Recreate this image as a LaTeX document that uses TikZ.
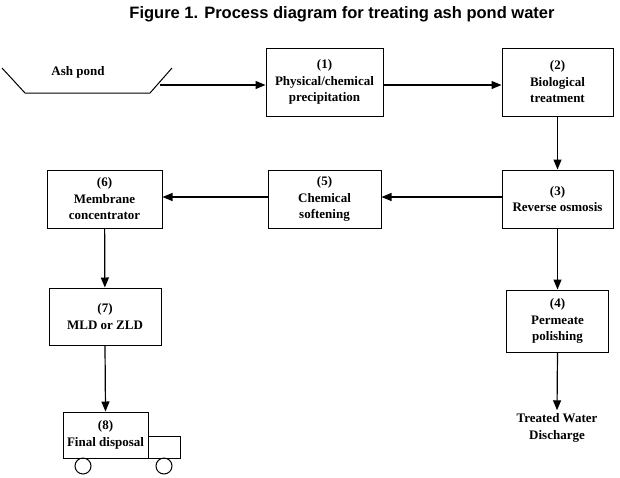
\documentclass[tikz,border=0pt]{standalone}
\usepackage{fontspec}
\setmainfont{Liberation Serif}
\newfontfamily\ttl{Liberation Sans}
\usetikzlibrary{arrows.meta}
\begin{document}
\begin{tikzpicture}[x=1pt,y=-1pt,
 box/.style={draw,line width=1pt,align=center,font=\bfseries\fontsize{13}{16.5}\selectfont,inner sep=0pt},
 arr/.style={-{Triangle[length=10pt,width=8pt]},line width=1.2pt},
 lbl/.style={align=center,font=\bfseries\fontsize{13}{16.5}\selectfont}]
\useasboundingbox (0,0) rectangle (620,477);
\node[font=\ttl\bfseries\fontsize{16.5}{19}\selectfont] (title) at (342,14) {Figure 1. Process diagram for treating ash pond water};
\draw[line width=1pt] (2,68) -- (25,93) -- (150,93) -- (172,68);
\node[lbl] (ash) at (78,72) {Ash pond};
\coordinate (ashout) at (160,85);
\node[box,minimum width=117pt,minimum height=68pt] (b1) at (324.5,82) {(1)\\Physical/chemical\\precipitation};
\node[box,minimum width=111pt,minimum height=68pt] (b2) at (557.5,82) {(2)\\Biological\\treatment};
\node[box,minimum width=111pt,minimum height=58pt] (b3) at (557.5,199) {(3)\\Reverse osmosis};
\node[box,minimum width=113pt,minimum height=58pt] (b5) at (324.5,199) {(5)\\Chemical\\softening};
\node[box,minimum width=115pt,minimum height=58pt] (b6) at (104.5,199) {(6)\\Membrane\\concentrator};
\node[box,minimum width=102pt,minimum height=62pt] (b4) at (557.5,321) {(4)\\Permeate\\polishing};
\node[box,minimum width=112pt,minimum height=57pt] (b7) at (105,316.5) {(7)\\MLD or ZLD};
\node[box,minimum width=85pt,minimum height=46pt] (b8) at (105.5,435) {(8)\\Final disposal};
\draw[line width=1pt] (b8.east |- 0,436) rectangle (180,458);
\draw[line width=1pt] (83,466) circle (8) (164,466) circle (8);
\node[lbl] (tw) at (557,428) {Treated Water\\Discharge};
\draw[arr] (ashout) -- (b1.west |- ashout);
\draw[arr] (b1.east |- 0,85) -- (b2.west |- 0,85);
\draw[arr] (b2) -- (b3);
\draw[arr] (b3.west |- 0,197) -- (b5.east |- 0,197);
\draw[arr] (b5.west |- 0,197) -- (b6.east |- 0,197);
\draw[arr] (b3) -- (b4);
\draw[arr] (b6) -- (b7);
\draw[arr] (b7.south) -- (b8.north);
\draw[arr] (b4.south) -- (tw.north);
\end{tikzpicture}
\end{document}
